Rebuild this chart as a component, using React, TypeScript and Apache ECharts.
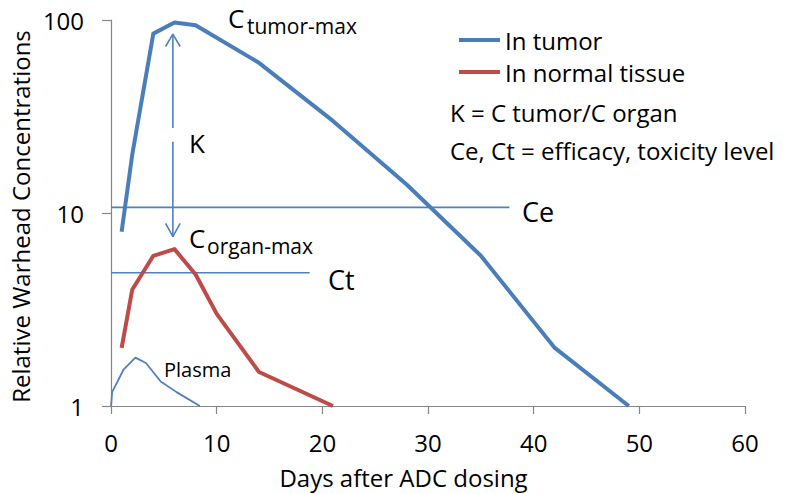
import React, { useEffect, useRef } from "react";
import * as echarts from "echarts";

// ---- data ----
const tumorDays = [1, 2, 4, 6, 8, 14, 21, 28, 35, 42, 49];
const tumorConc = [8, 20, 85, 97, 94, 60, 30, 14, 6, 2, 1];
const organDays = [1, 2, 4, 6, 8, 10, 14, 21];
const organConc = [2, 4, 6, 6.5, 4.8, 3, 1.5, 1];
const plasmaDays = [0, 0.1, 1.2, 2.3, 3.3, 4.7, 6.2, 8.4];
const plasmaConc = [1, 1.18, 1.55, 1.78, 1.67, 1.34, 1.18, 1.0];

// thresholds: [level, start day, end day]
const ceLine = [10.7, 0, 37.7];
const ctLine = [4.9, 0, 18.8];

// K arrow (day, top tip, gap top, gap bottom, bottom tip, wing half-width, top wing level, bottom wing level)
const kArrowDay = 5.85;
const kArrowLevels = [84.4, 27.6, 23.4, 7.54];
const kWingHalf = 0.69;
const kWingLevels = [72.9, 8.83];

const xTicks = { min: 0, max: 60, interval: 10 };
const yRange = { min: 1, max: 100 };

const seriesNames = ["In tumor", "In normal tissue", "Plasma"];

const FONT = "'Open Sans', 'Noto Sans', sans-serif";
const BLUE = "#4A7EBB";
const RED = "#BE4B48";
const THIN = "#4F81BD";

const zip = (xs: number[], ys: number[]) => xs.map((x, i) => [x, ys[i]]);

export default function App() {
  const ref = useRef<HTMLDivElement>(null);
  useEffect(() => {
    if (!ref.current) return;
    const chart = echarts.init(ref.current, null, { renderer: "svg" });
    const txt = (text: string, x: number, y: number, size: number) => ({
      type: "text",
      x,
      y,
      silent: true,
      style: {
        text,
        fontSize: size,
        fontFamily: FONT,
        fill: "#000",
        align: "left",
        verticalAlign: "middle",
        textVerticalAlign: "middle",
      },
    });
    const thinLine = (name: string, data: number[][]) => ({
      name,
      type: "line",
      data,
      symbol: "none",
      silent: true,
      lineStyle: { color: THIN, width: 1.6 },
      z: 1,
    });
    chart.setOption({
      animation: false,
      textStyle: { fontFamily: FONT },
      grid: { left: 105, right: 44, top: 20, bottom: 87, containLabel: false },
      legend: {
        data: [seriesNames[0], seriesNames[1]],
        orient: "vertical",
        left: 459,
        top: 28,
        padding: 0,
        itemGap: 8,
        itemWidth: 41,
        itemHeight: 4,
        icon: "rect",
        textStyle: { fontSize: 24, color: "#000", fontFamily: FONT },
        selectedMode: false,
      },
      xAxis: {
        type: "value",
        min: xTicks.min,
        max: xTicks.max,
        interval: xTicks.interval,
        name: "Days after ADC dosing",
        nameLocation: "middle",
        nameGap: 59,
        nameTextStyle: { fontSize: 24, color: "#000", fontFamily: FONT, padding: [0, 49, 0, 0] },
        axisLine: { lineStyle: { color: "#868686", width: 1.2 } },
        axisTick: { show: true, length: 8, lineStyle: { color: "#868686", width: 1.2 } },
        axisLabel: { fontSize: 24, color: "#000", margin: 24, fontFamily: FONT },
        splitLine: { show: false },
      },
      yAxis: {
        type: "log",
        logBase: 10,
        min: yRange.min,
        max: yRange.max,
        name: "Relative Warhead Concentrations",
        nameLocation: "middle",
        nameRotate: 90,
        nameGap: 79,
        nameTextStyle: { fontSize: 24, color: "#000", fontFamily: FONT, padding: [0, 7, 0, 0] },
        axisLine: { show: true, lineStyle: { color: "#868686", width: 1.2 } },
        axisTick: { show: true, length: 9, lineStyle: { color: "#868686", width: 1.2 } },
        axisLabel: { fontSize: 24, color: "#000", margin: 27, fontFamily: FONT, formatter: (v: number) => String(v) },
        splitLine: { show: false },
      },
      series: [
        thinLine("Ce", [[ceLine[1], ceLine[0]], [ceLine[2], ceLine[0]]]),
        thinLine("Ct", [[ctLine[1], ctLine[0]], [ctLine[2], ctLine[0]]]),
        thinLine("K top", [[kArrowDay, kArrowLevels[0]], [kArrowDay, kArrowLevels[1]]]),
        thinLine("K bottom", [[kArrowDay, kArrowLevels[2]], [kArrowDay, kArrowLevels[3]]]),
        thinLine("K head top", [
          [kArrowDay - kWingHalf, kWingLevels[0]],
          [kArrowDay, kArrowLevels[0]],
          [kArrowDay + kWingHalf, kWingLevels[0]],
        ]),
        thinLine("K head bottom", [
          [kArrowDay - kWingHalf, kWingLevels[1]],
          [kArrowDay, kArrowLevels[3]],
          [kArrowDay + kWingHalf, kWingLevels[1]],
        ]),
        {
          name: seriesNames[2],
          type: "line",
          data: zip(plasmaDays, plasmaConc),
          symbol: "none",
          lineStyle: { color: THIN, width: 1.8, join: "round" },
          itemStyle: { color: THIN },
          z: 2,
        },
        {
          name: seriesNames[1],
          type: "line",
          data: zip(organDays, organConc),
          symbol: "none",
          lineStyle: { color: RED, width: 4, join: "round" },
          itemStyle: { color: RED },
          z: 3,
        },
        {
          name: seriesNames[0],
          type: "line",
          data: zip(tumorDays, tumorConc),
          symbol: "none",
          lineStyle: { color: BLUE, width: 4, join: "round" },
          itemStyle: { color: BLUE },
          z: 4,
        },
      ],
      graphic: [
        txt("C", 228, 17.6, 26),
        txt("tumor-max", 247, 26, 21),
        txt("C", 189, 238.2, 26),
        txt("organ-max", 207, 245.9, 21),
        txt("K", 189, 143.2, 26),
        txt("Ce", 522, 211.2, 27),
        txt("Ct", 328, 279.5, 27),
        txt("Plasma", 164, 369.9, 20),
        txt("K = C tumor/C organ", 450, 112.4, 24),
        txt("Ce, Ct = efficacy, toxicity level", 450, 150.7, 24),
      ],
    });
    return () => chart.dispose();
  }, []);
  return (
    <div
      ref={ref}
      style={{ position: "absolute", left: 0, top: 0, width: 789, height: 494, background: "#fff" }}
    />
  );
}
